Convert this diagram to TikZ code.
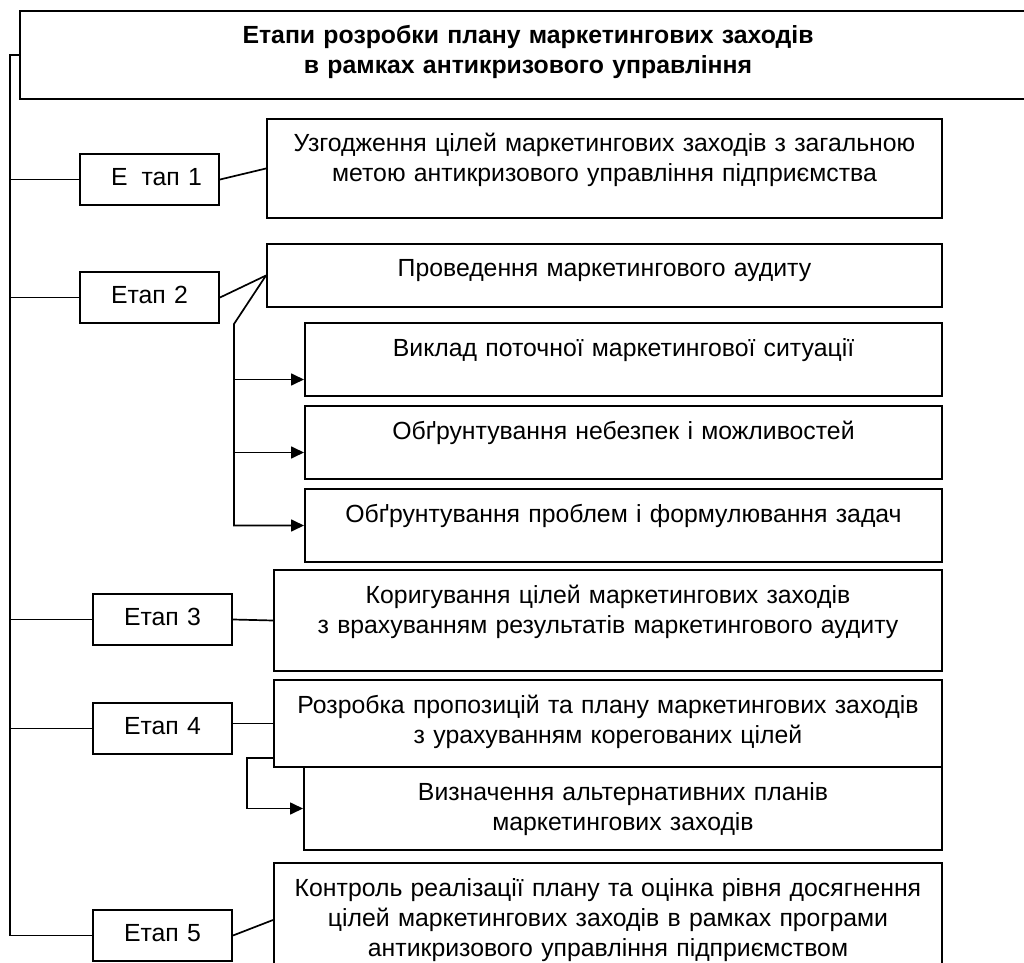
\documentclass[tikz,border=0pt]{standalone}
\usepackage{fontspec}
\setmainfont{Liberation Sans}
\usetikzlibrary{arrows.meta}

\tikzset{
  box/.style={draw, line width=1pt, inner xsep=0pt, inner ysep=0pt, align=center,
    anchor=north west, text height=16.5pt, font=\fontsize{12.4}{15}\selectfont},
  stage/.style={box, text width=69.5pt, text height=15.5pt, text depth=10pt},
  link/.style={line width=0.85pt},
  arr/.style={link, -{Triangle[length=6.5pt,width=6pt]}}
}

\begin{document}
\begin{tikzpicture}[x=0.5pt,y=-0.5pt]
  \useasboundingbox (0,0) rectangle (1024,963);
  \clip (0,0) rectangle (1024,963);

  % Title
  \node[box, text width=508pt, text depth=27.5pt, font=\fontsize{12.4}{15}\selectfont\bfseries]
    (title) at (19,10) {Етапи розробки плану маркетингових заходів\\в рамках антикризового управління};

  % Stages
  \node[stage] (e1) at (79,153) {\hspace*{7pt}Е\hspace{7pt}тап 1};
  \node[stage] (e2) at (79,271) {Етап 2};
  \node[stage] (e3) at (92,593) {Етап 3};
  \node[stage] (e4) at (92,702) {Етап 4};
  \node[stage] (e5) at (92,909) {Етап 5};

  % Contents of the stages
  \node[box, text width=337.5pt, text depth=33pt] (uzg) at (266,118)
    {Узгодження цілей маркетингових заходів з загальною\\метою антикризового управління підприємства};
  \node[box, text width=337.5pt, text depth=15pt] (prov) at (266,243)
    {Проведення маркетингового аудиту};
  \node[box, text width=318.5pt, text depth=20pt] (vykl) at (304,322)
    {Виклад поточної маркетингової ситуації};
  \node[box, text width=318.5pt, text depth=20pt] (nebez) at (304,405)
    {Обґрунтування небезпек і можливостей};
  \node[box, text width=318.5pt, text depth=20pt] (probl) at (304,488)
    {Обґрунтування проблем і формулювання задач};
  \node[box, text width=334pt, text depth=34pt] (kor) at (273,569)
    {Коригування цілей маркетингових заходів\\з врахуванням результатів маркетингового аудиту};
  \node[box, text width=334pt, text depth=27pt] (rozr) at (273,679)
    {Розробка пропозицій та плану маркетингових заходів\\з урахуванням корегованих цілей};
  \node[box, text width=319pt, text depth=25pt] (vyzn) at (303,766)
    {Визначення альтернативних планів\\маркетингових заходів};
  \node[box, text width=334pt, text depth=40.5pt] (kontr) at (273,862)
    {Контроль реалізації плану та оцінка рівня досягнення\\цілей маркетингових заходів в рамках програми\\антикризового управління підприємством};

  % Trunk
  \coordinate (trk) at ([xshift=-4.5pt]title.west);
  \draw[link] (title.west) -- (trk) |- (e5.west);
  \foreach \s in {e1,e2,e3,e4}
    \draw[link] (trk |- \s.west) -- (\s.west);

  % Stage links
  \draw[link] (e1.east) -- (uzg.west);
  \draw[link] (e2.east) -- (prov.west);
  \draw[link] (e3.east) -- (kor.west);
  \draw[link] (e4.east |- rozr.west) -- (rozr.west);
  \draw[link] (e5.east) -- (kontr.west);

  % Audit branch
  \coordinate (br) at ([xshift=7pt]e2.south east);
  \coordinate (v1) at ([yshift=-10pt]vykl.west);
  \coordinate (v2) at ([yshift=-5pt]nebez.west);
  \draw[arr] (prov.west) -- (br) |- (probl.west);
  \draw[arr] (br |- v1) -- (v1);
  \draw[arr] (br |- v2) -- (v2);

  % Alternative plans
  \draw[arr] ([yshift=5pt]rozr.south west) -- ++(-26,0) |- (vyzn.west);
\end{tikzpicture}
\end{document}
